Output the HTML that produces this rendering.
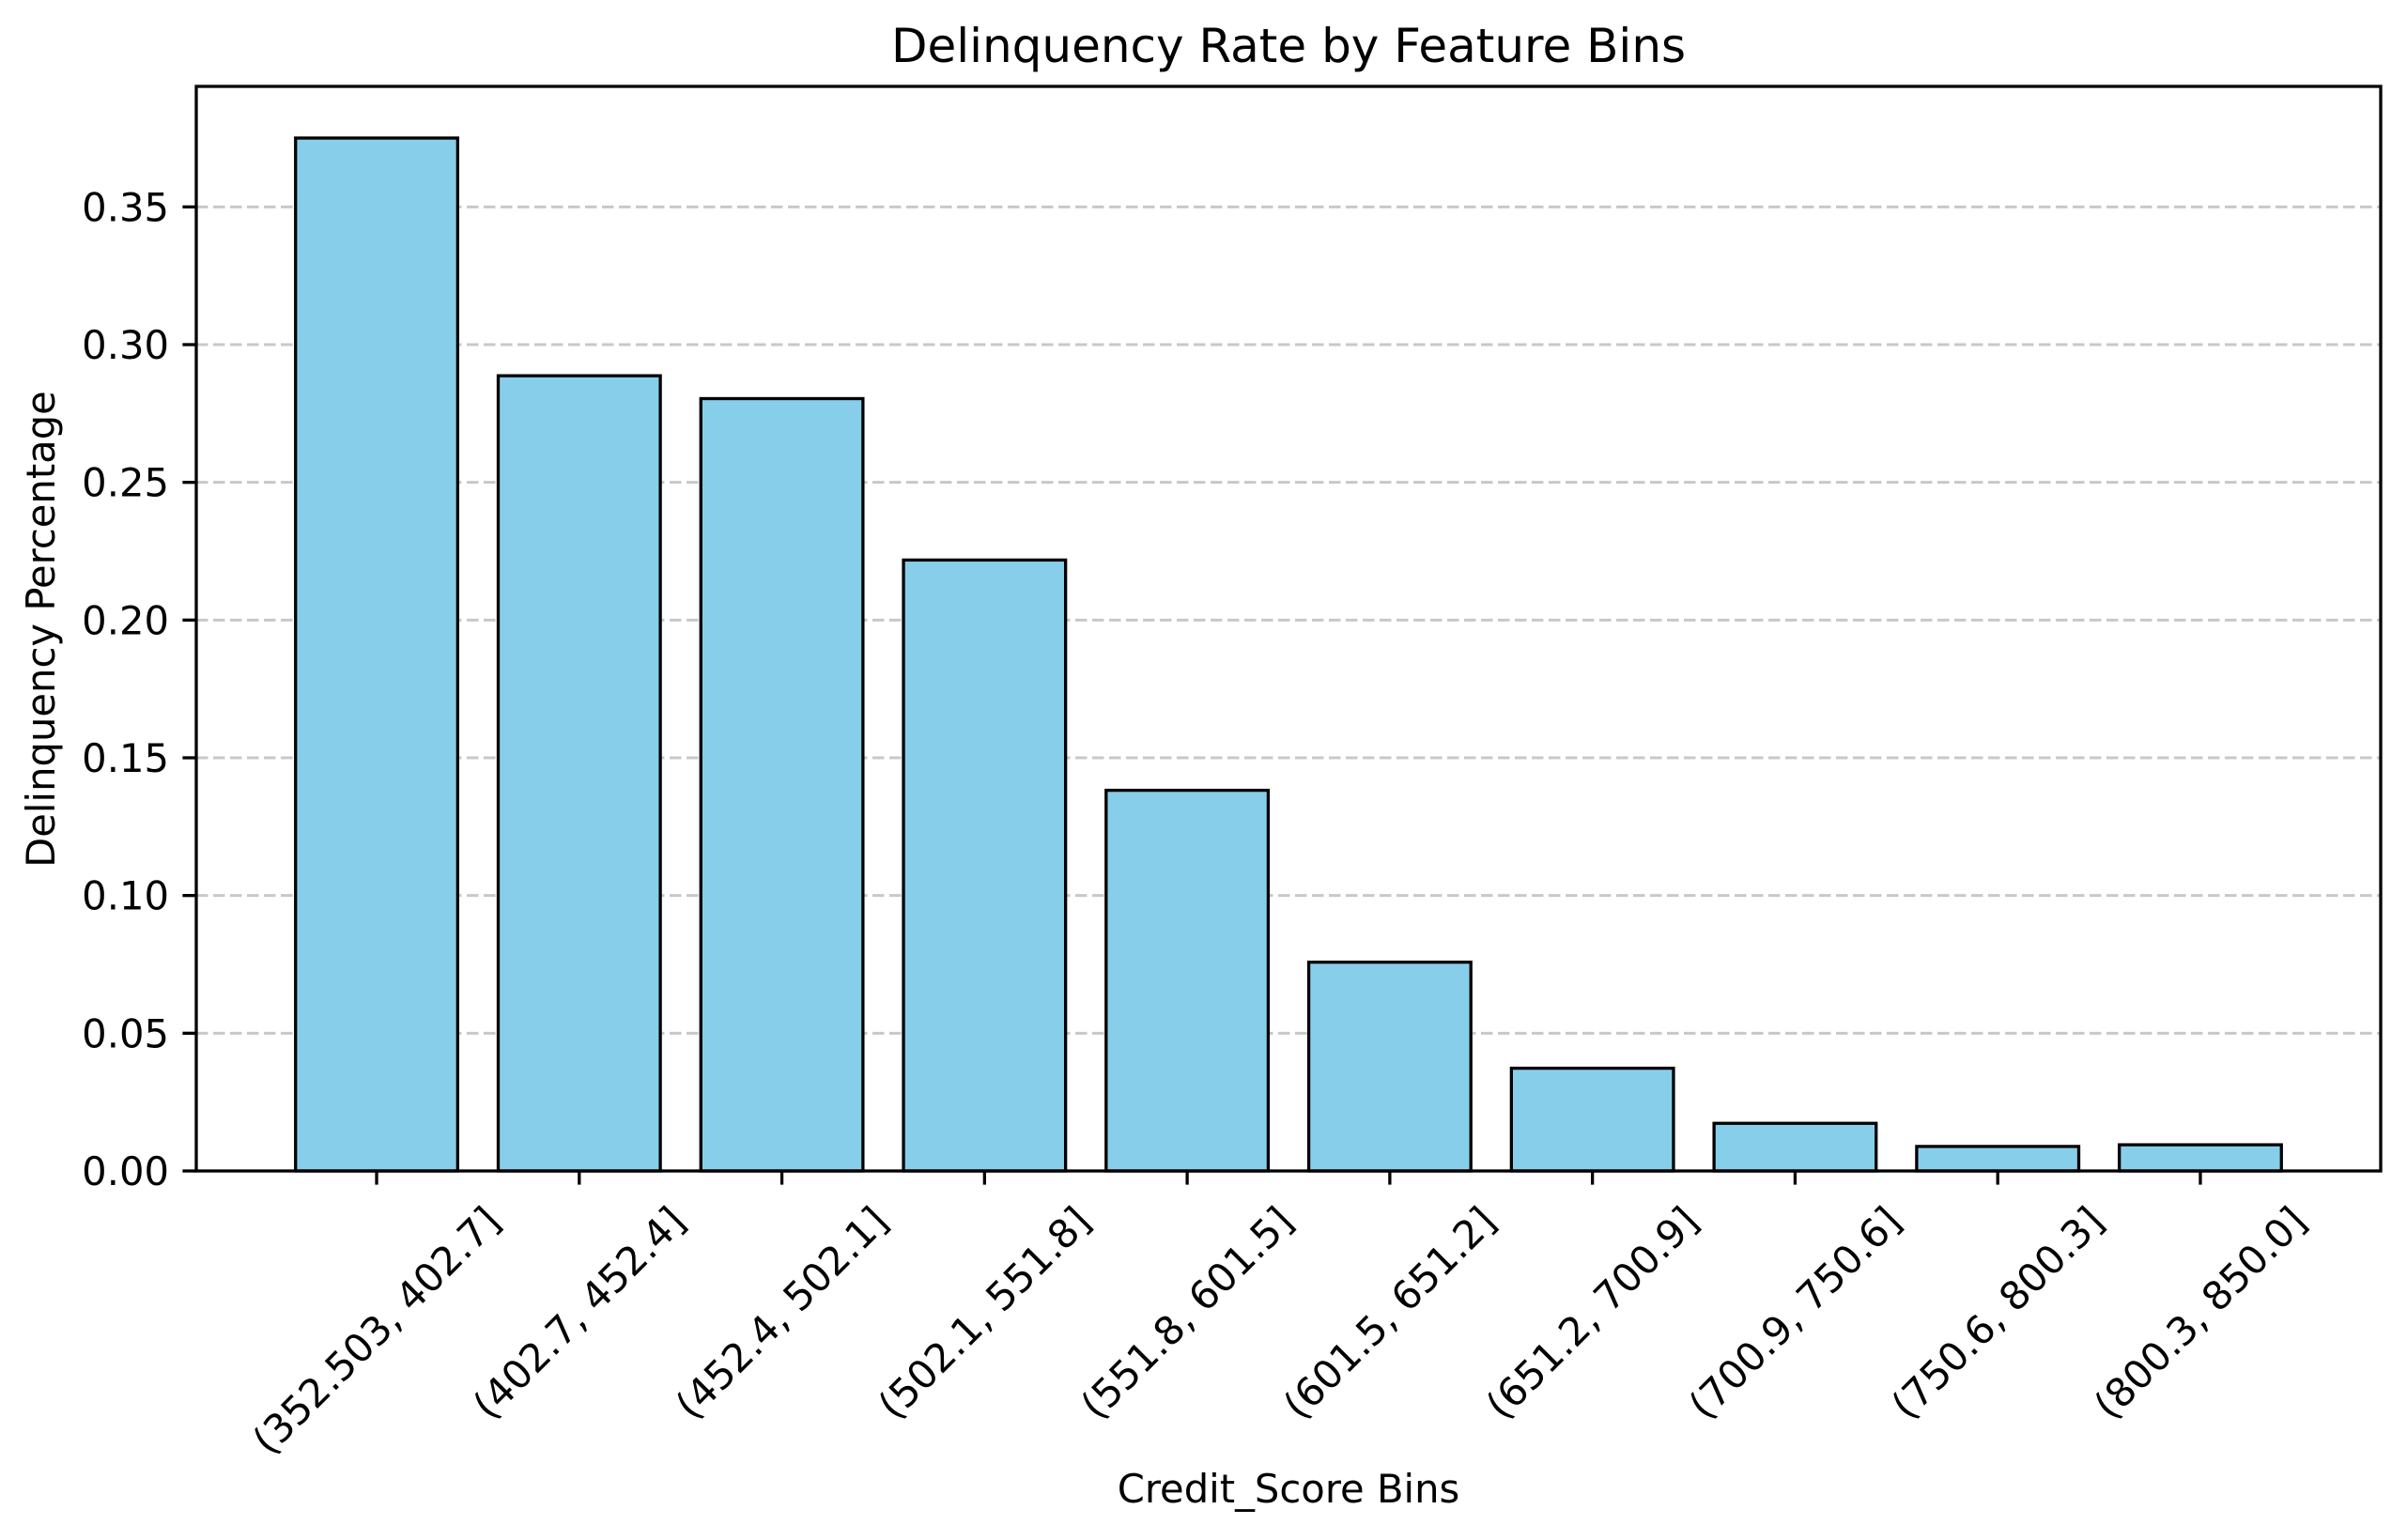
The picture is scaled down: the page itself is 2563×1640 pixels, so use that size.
<!DOCTYPE html>
<html><head><meta charset="utf-8"><style>
html,body{margin:0;padding:0;background:#fff;}
svg{display:block;font-family:"DejaVu Sans","Liberation Sans",sans-serif;}
</style></head><body>
<svg id="chart" width="2563" height="1640" viewBox="0 0 2563 1640" xmlns="http://www.w3.org/2000/svg">
<rect width="2563" height="1640" fill="#fff"/>
<text x="1372" y="66" font-size="50" text-anchor="middle">Delinquency Rate by Feature Bins</text>
<text transform="translate(58,670) rotate(-90)" font-size="41.7" text-anchor="middle">Delinquency Percentage</text>
<text x="1372" y="1600" font-size="41.7" text-anchor="middle">Credit_Score Bins</text>
<g id="grid"></g><g id="bars"></g><g id="axes"></g>
</svg>
<script>
const categories = ["(352.503, 402.7]","(402.7, 452.4]","(452.4, 502.1]","(502.1, 551.8]","(551.8, 601.5]","(601.5, 651.2]","(651.2, 700.9]","(700.9, 750.6]","(750.6, 800.3]","(800.3, 850.0]"];
const values = [0.375, 0.2887, 0.2804, 0.2218, 0.1382, 0.0758, 0.0373, 0.0173, 0.0089, 0.0095];
const yTicks = [0, 0.05, 0.10, 0.15, 0.20, 0.25, 0.30, 0.35];
const yTickLabels = ["0.00","0.05","0.10","0.15","0.20","0.25","0.30","0.35"];

const NS = "http://www.w3.org/2000/svg";
const L = 209, R = 2535, T = 92, B = 1247;
const n = categories.length;
const xMin = -0.4 - 0.05 * (n - 1 + 0.8), xMax = n - 1 + 0.4 + 0.05 * (n - 1 + 0.8);
const yMax = Math.max(...values) * 1.05;
function xs(v){ return L + (v - xMin) / (xMax - xMin) * (R - L); }
function ys(v){ return B - v / yMax * (B - T); }
function mk(tag, attrs, parent){ const e = document.createElementNS(NS, tag); for (const k in attrs) e.setAttribute(k, attrs[k]); parent.appendChild(e); return e; }

const grid = document.getElementById('grid'), bars = document.getElementById('bars'), axes = document.getElementById('axes');
yTicks.forEach((t, i) => {
  const y = ys(t);
  const g = mk('line', {x1: L, x2: R, y1: y, y2: y, stroke: '#b0b0b0', 'stroke-opacity': 0.7, 'stroke-width': 3, 'stroke-dasharray': '12.5,5.5'}, grid);
  
  
  const tk = mk('line', {x1: L - 14.6, x2: L, y1: y, y2: y, stroke: '#000', 'stroke-width': 3.3}, axes);
  
  
  const tx = mk('text', {x: L - 29, y: y + 15, 'font-size': 41.7, 'text-anchor': 'end'}, axes);
  tx.textContent = yTickLabels[i];
  
  
});
const bw = (xs(0.8) - xs(0));
values.forEach((v, i) => {
  const x0 = xs(i - 0.4), y0 = ys(v);
  const b = mk('rect', {x: x0, y: y0, width: bw, height: B - y0, fill: '#87ceeb', stroke: '#000', 'stroke-width': 3.3}, bars);
  
  
});
mk('rect', {x: L, y: T, width: R - L, height: B - T, fill: 'none', stroke: '#000', 'stroke-width': 3.3}, axes);
categories.forEach((c, i) => {
  const x = xs(i);
  const tk = mk('line', {x1: x, x2: x, y1: B, y2: B + 14.6, stroke: '#000', 'stroke-width': 3.3}, axes);
  
  
  const tx = mk('text', {'font-size': 41.7, 'text-anchor': 'middle'}, axes);
  tx.textContent = c;
  
  
  const len = tx.getComputedTextLength();
  const h = 41.7 * 1.17;
  const bh = (len + h) * Math.SQRT1_2;
  const cy = B + 29 + bh / 2;
  tx.setAttribute('transform', 'translate(' + x + ',' + cy + ') rotate(-45)');
  tx.setAttribute('y', 14);
});
</script>
</body></html>
